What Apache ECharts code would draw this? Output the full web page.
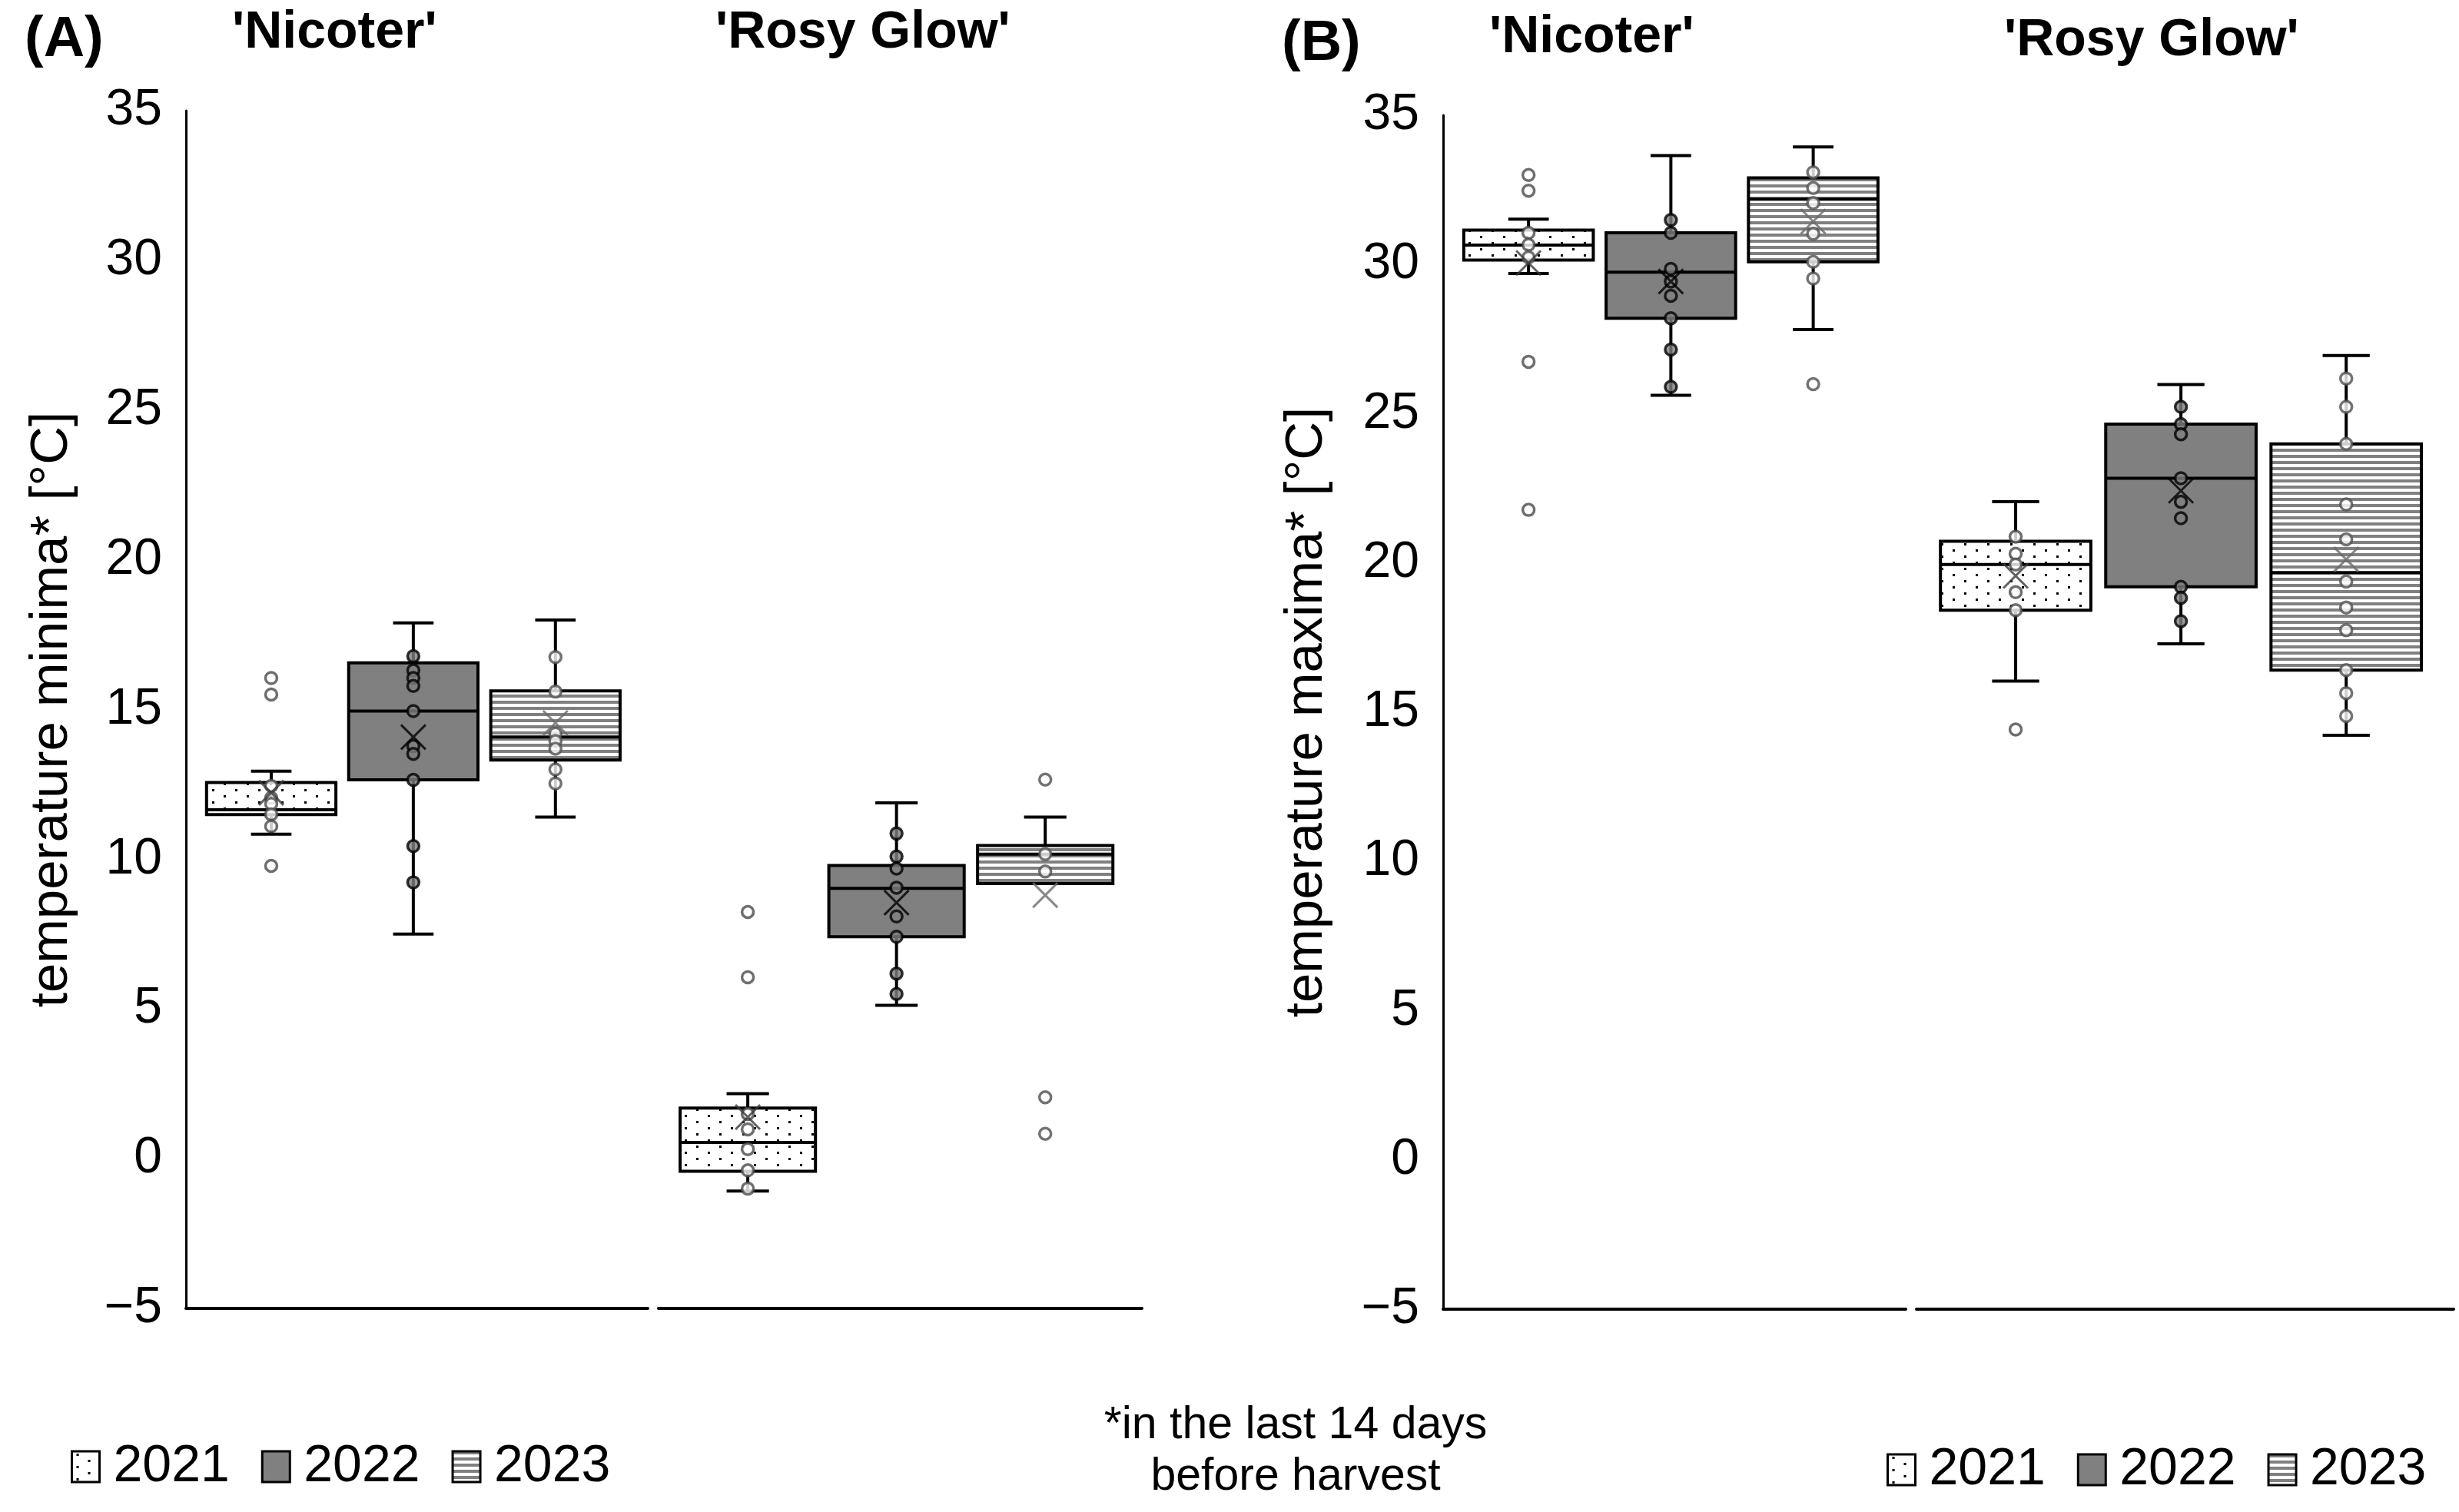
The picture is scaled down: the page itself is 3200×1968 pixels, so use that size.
<!DOCTYPE html>
<html>
<head>
<meta charset="utf-8">
<script src="https://cdn.jsdelivr.net/npm/echarts@6/dist/echarts.min.js"></script>
<style>html,body{margin:0;padding:0;background:#fff}#chart{width:3200px;height:1968px}</style>
</head>
<body>
<div id="chart"></div>
<script>
// ---------------- data ----------------
const years = ['2021', '2022', '2023'];
const cultivars = ["'Nicoter'", "'Rosy Glow'"];
const yTicks = [-5, 0, 5, 10, 15, 20, 25, 30, 35];

// box statistics per year: [min, Q1, median, Q3, max]
const minimaNicoterBox = [[10.84, 11.49, 11.65, 12.56, 12.94], [7.5, 12.65, 14.95, 16.56, 17.89], [11.41, 13.31, 14.08, 15.62, 17.99]];
const minimaNicoterPoints = [[16.05, 15.5, 12.45, 12.05, 11.85, 11.5, 11.1, 9.78], [16.78, 16.31, 16.05, 15.79, 14.95, 13.78, 13.52, 12.65, 10.44, 9.23], [16.75, 15.6, 14.2, 13.95, 13.69, 13.0, 12.53]];
const minimaNicoterMean = [12.22, 14.08, 14.55];

const minimaRosyBox = [[-1.08, -0.42, 0.54, 1.69, 2.17], [5.12, 7.41, 9.03, 9.79, 11.88], [9.19, 9.19, 10.17, 10.46, 11.41]];
const minimaRosyPoints = [[8.24, 6.06, 1.49, 0.98, 0.32, -0.39, -1.0], [10.86, 10.09, 9.69, 9.05, 8.09, 7.41, 6.18, 5.5], [12.66, 10.17, 9.59, 2.05, 0.83]];
const minimaRosyMean = [1.39, 8.55, 8.8];

const maximaNicoterBox = [[29.7, 30.15, 30.65, 31.15, 31.52], [25.62, 28.2, 29.74, 31.06, 33.65], [27.82, 30.09, 32.19, 32.9, 33.94]];
const maximaNicoterPoints = [[33.0, 32.47, 31.06, 30.66, 30.24, 26.74, 21.78], [31.49, 31.06, 29.85, 29.43, 28.95, 28.2, 27.15, 25.9], [33.09, 32.56, 32.06, 31.03, 30.09, 29.53, 25.99]];
const maximaNicoterMean = [30.05, 29.43, 31.44];

const maximaRosyBox = [[16.04, 18.42, 19.95, 20.73, 22.05], [17.29, 19.2, 22.84, 24.65, 25.98], [14.23, 16.41, 19.68, 23.99, 26.95]];
const maximaRosyPoints = [[20.88, 20.31, 19.95, 19.02, 18.42, 14.42], [25.23, 24.65, 24.31, 22.84, 22.05, 21.5, 19.2, 18.83, 18.05], [26.18, 25.23, 23.99, 21.96, 20.79, 19.38, 18.51, 17.75, 16.41, 15.64, 14.87]];
const maximaRosyMean = [19.57, 22.42, 20.12];

// ---------------- styles ----------------
const FONT = "'Liberation Sans', Arial, sans-serif";

function makeTile(w, h, draw) {
  const c = document.createElement('canvas');
  c.width = w; c.height = h;
  const g = c.getContext('2d');
  g.fillStyle = '#fff'; g.fillRect(0, 0, w, h);
  draw(g);
  return c;
}
const dotTile = makeTile(30, 16, g => { g.fillStyle = '#000'; g.fillRect(6, 3, 3, 3); g.fillRect(21, 11, 3, 3); });
const stripeTile = makeTile(8, 8, g => { g.fillStyle = '#808080'; g.fillRect(0, 0, 8, 4); });
const fills = [
  { image: dotTile, repeat: 'repeat' },
  '#808080',
  { image: stripeTile, repeat: 'repeat' }
];
const pointStyles = [
  { color: '#ffffff', borderColor: '#4a4a4a', borderWidth: 3.5 },
  { color: '#808080', borderColor: '#000000', borderWidth: 3.5 },
  { color: '#ffffff', borderColor: '#505050', borderWidth: 3.5 }
];
const meanColors = ['#3a3a3a', '#000000', '#6a6a6a'];

// ---------------- layout ----------------
const grids = [
  { left: 242, top: 144, width: 601, height: 1559 },
  { left: 857, top: 144, width: 629, height: 1559 },
  { left: 1878, top: 150, width: 602, height: 1554 },
  { left: 2494, top: 150, width: 699, height: 1554 }
];
const panels = [
  { grid: 0, box: minimaNicoterBox, points: minimaNicoterPoints, mean: minimaNicoterMean },
  { grid: 1, box: minimaRosyBox, points: minimaRosyPoints, mean: minimaRosyMean },
  { grid: 2, box: maximaNicoterBox, points: maximaNicoterPoints, mean: maximaNicoterMean },
  { grid: 3, box: maximaRosyBox, points: maximaRosyPoints, mean: maximaRosyMean }
];

const xAxes = grids.map((g, i) => ({
  type: 'value', gridIndex: i, min: -0.6, max: 2.65,
  axisLine: { show: true, onZero: false, lineStyle: { color: '#000', width: 4 } },
  axisTick: { show: false }, axisLabel: { show: false }, splitLine: { show: false }
}));
const yNames = ['temperature minima* [°C]', '', 'temperature maxima* [°C]', ''];
const yAxes = grids.map((g, i) => ({
  type: 'value', gridIndex: i, min: yTicks[0], max: yTicks[yTicks.length - 1], interval: 5,
  show: i % 2 === 0,
  name: yNames[i], nameLocation: 'middle', nameRotate: 90, nameGap: i === 0 ? 140 : 143,
  nameTextStyle: { fontFamily: FONT, fontSize: 69, color: '#000' },
  axisLine: { show: true, onZero: false, lineStyle: { color: '#000', width: 3 } },
  axisTick: { show: false },
  splitLine: { show: false },
  axisLabel: {
    fontFamily: FONT, fontSize: 66, color: '#000', margin: 31,
    formatter: v => (v < 0 ? '\u2212' + Math.abs(v) : String(v))
  }
}));

function boxRenderer(k) {
  return function (params, api) {
    const x = api.value(0);
    const pMin = api.coord([x, api.value(1)]);
    const pQ1 = api.coord([x, api.value(2)]);
    const pMed = api.coord([x, api.value(3)]);
    const pQ3 = api.coord([x, api.value(4)]);
    const pMax = api.coord([x, api.value(5)]);
    const unit = api.size([1, 0])[0];
    const bw = unit * 0.91, cw = unit * 0.285;
    const cx = pMed[0];
    const ls = { stroke: '#000', lineWidth: 4 };
    return {
      type: 'group',
      children: [
        { type: 'line', shape: { x1: cx, y1: pQ3[1], x2: cx, y2: pMax[1] }, style: ls },
        { type: 'line', shape: { x1: cx, y1: pQ1[1], x2: cx, y2: pMin[1] }, style: ls },
        { type: 'line', shape: { x1: cx - cw / 2, y1: pMax[1], x2: cx + cw / 2, y2: pMax[1] }, style: ls },
        { type: 'line', shape: { x1: cx - cw / 2, y1: pMin[1], x2: cx + cw / 2, y2: pMin[1] }, style: ls },
        { type: 'rect', shape: { x: cx - bw / 2, y: pQ3[1], width: bw, height: pQ1[1] - pQ3[1] },
          style: { fill: fills[k], stroke: '#000', lineWidth: 4 } },
        { type: 'line', shape: { x1: cx - bw / 2, y1: pMed[1], x2: cx + bw / 2, y2: pMed[1] }, style: ls }
      ]
    };
  };
}

const series = [];
panels.forEach(p => {
  years.forEach((yr, k) => {
    series.push({
      type: 'custom', name: yr, xAxisIndex: p.grid, yAxisIndex: p.grid, z: 2,
      renderItem: boxRenderer(k),
      encode: { x: 0, y: [1, 2, 3, 4, 5] },
      data: [[k].concat(p.box[k])]
    });
    series.push({
      type: 'scatter', name: yr, xAxisIndex: p.grid, yAxisIndex: p.grid, z: 3,
      symbol: 'circle', symbolSize: 15, itemStyle: pointStyles[k],
      data: p.points[k].map(v => [k, v])
    });
    series.push({
      type: 'scatter', name: yr, xAxisIndex: p.grid, yAxisIndex: p.grid, z: 4,
      symbol: 'path://M0,0L10,10M10,0L0,10', symbolSize: 32,
      itemStyle: { color: 'rgba(0,0,0,0)', borderColor: meanColors[k], borderWidth: 3 },
      data: [[k, p.mean[k]]]
    });
  });
});

const legendData = years.map((yr, k) => ({
  name: yr, icon: 'rect',
  itemStyle: { color: fills[k], borderColor: '#000', borderWidth: 3 }
}));
const legendBase = {
  orient: 'horizontal', padding: 0, itemWidth: 36, itemHeight: 40, itemGap: 41,
  selectedMode: false,
  textStyle: { fontFamily: FONT, fontSize: 68, color: '#000', padding: [0, 0, 0, 13] },
  data: legendData
};

const titleStyle = { fontFamily: FONT, fontWeight: 'bold', color: '#000' };
const option = {
  backgroundColor: '#fff',
  animation: false,
  title: [
    { text: '(A)', left: 32, top: 16, padding: 0, textStyle: Object.assign({ fontSize: 74 }, titleStyle) },
    { text: cultivars[0], left: 302, top: 9, padding: 0, textStyle: Object.assign({ fontSize: 68 }, titleStyle) },
    { text: cultivars[1], left: 931, top: 9, padding: 0, textStyle: Object.assign({ fontSize: 68 }, titleStyle) },
    { text: '(B)', left: 1668, top: 21, padding: 0, textStyle: Object.assign({ fontSize: 74 }, titleStyle) },
    { text: cultivars[0], left: 1938, top: 15, padding: 0, textStyle: Object.assign({ fontSize: 68 }, titleStyle) },
    { text: cultivars[1], left: 2608, top: 19, padding: 0, textStyle: Object.assign({ fontSize: 68 }, titleStyle) },
    { text: '*in the last 14 days\nbefore harvest', left: 1686, top: 1822, padding: 0, textAlign: 'center',
      textStyle: { fontFamily: FONT, fontWeight: 'normal', fontSize: 59, lineHeight: 67, color: '#000' } }
  ],
  legend: [
    Object.assign({ left: 92, top: 1875 }, legendBase),
    Object.assign({ left: 2455, top: 1879 }, legendBase)
  ],
  grid: grids,
  xAxis: xAxes,
  yAxis: yAxes,
  series: series
};

const chart = echarts.init(document.getElementById('chart'), null, { renderer: 'canvas' });
chart.setOption(option);
</script>
</body>
</html>
